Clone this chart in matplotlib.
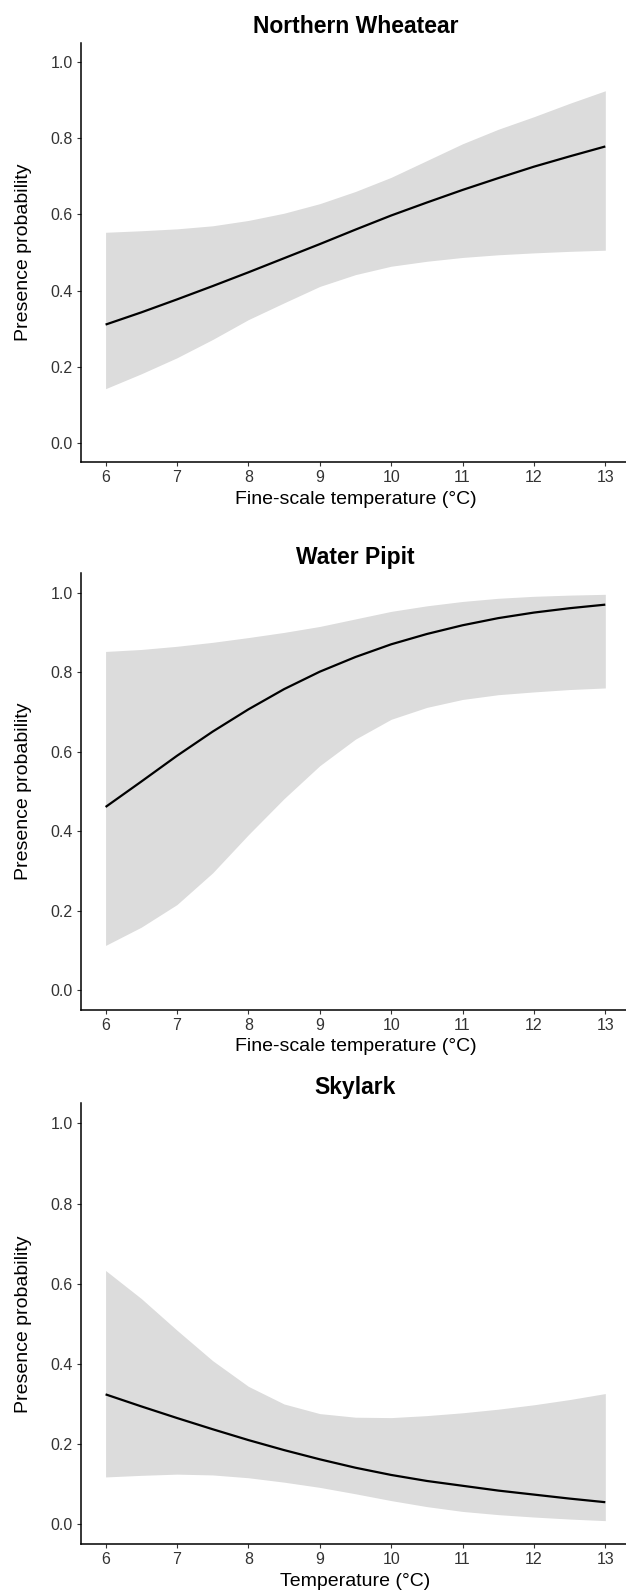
import numpy as np
import matplotlib
matplotlib.use("Agg")
import matplotlib.pyplot as plt

plt.rcParams['font.family'] = ['Liberation Sans', 'DejaVu Sans']

# temperature grid (°C)
temp = [6, 6.5, 7, 7.5, 8, 8.5, 9, 9.5, 10, 10.5, 11, 11.5, 12, 12.5, 13]

# Northern Wheatear
wheatear_fit = [0.311, 0.343, 0.377, 0.412, 0.448, 0.485, 0.522, 0.560, 0.597, 0.631, 0.664, 0.695, 0.725, 0.752, 0.778]
wheatear_hi = [0.553, 0.557, 0.562, 0.570, 0.584, 0.603, 0.628, 0.660, 0.697, 0.741, 0.785, 0.823, 0.856, 0.891, 0.924]
wheatear_lo = [0.143, 0.182, 0.224, 0.272, 0.324, 0.368, 0.411, 0.442, 0.464, 0.477, 0.487, 0.494, 0.499, 0.503, 0.506]

# Water Pipit
pipit_fit = [0.461, 0.525, 0.590, 0.651, 0.707, 0.758, 0.802, 0.839, 0.871, 0.897, 0.919, 0.937, 0.951, 0.962, 0.971]
pipit_hi = [0.853, 0.858, 0.866, 0.876, 0.888, 0.901, 0.916, 0.935, 0.954, 0.968, 0.979, 0.987, 0.992, 0.995, 0.997]
pipit_lo = [0.112, 0.158, 0.215, 0.295, 0.391, 0.482, 0.565, 0.632, 0.682, 0.712, 0.732, 0.744, 0.751, 0.757, 0.761]

# Skylark
skylark_fit = [0.324, 0.294, 0.265, 0.237, 0.210, 0.185, 0.162, 0.141, 0.123, 0.108, 0.096, 0.084, 0.074, 0.064, 0.055]
skylark_hi = [0.633, 0.563, 0.484, 0.408, 0.344, 0.300, 0.276, 0.267, 0.266, 0.271, 0.278, 0.287, 0.298, 0.311, 0.326]
skylark_lo = [0.118, 0.122, 0.125, 0.123, 0.116, 0.105, 0.092, 0.076, 0.059, 0.044, 0.032, 0.024, 0.018, 0.013, 0.009]

titles = ["Northern Wheatear", "Water Pipit", "Skylark"]
xlabels = ["Fine-scale temperature (°C)", "Fine-scale temperature (°C)", "Temperature (°C)"]
fits = [wheatear_fit, pipit_fit, skylark_fit]
his = [wheatear_hi, pipit_hi, skylark_hi]
los = [wheatear_lo, pipit_lo, skylark_lo]

x_ticks = [6, 7, 8, 9, 10, 11, 12, 13]
y_ticks = [0.0, 0.2, 0.4, 0.6, 0.8, 1.0]

W, H = 626, 1592
fig = plt.figure(figsize=(W / 100, H / 100), dpi=100)

# axes boxes in pixels: (top, bottom)
boxes = [(42.7, 462.3), (573.3, 1009.7), (1103.3, 1544.3)]
left_px, right_px = 80.6, 630.3

for i in range(3):
    top, bot = boxes[i]
    ax = fig.add_axes([left_px / W, 1 - bot / H, (right_px - left_px) / W, (bot - top) / H])
    ax.fill_between(temp, los[i], his[i], color="#dcdcdc", linewidth=0)
    ax.plot(temp, fits[i], color="black", linewidth=1.6, solid_capstyle="butt")
    ax.set_xlim(5.65, 13.35)
    ax.set_ylim(-0.05, 1.05)
    ax.set_xticks(x_ticks)
    ax.set_yticks(y_ticks)
    ax.set_yticklabels(["%.1f" % v for v in y_ticks])
    for s in ["top", "right"]:
        ax.spines[s].set_visible(False)
    for s in ["left", "bottom"]:
        ax.spines[s].set_linewidth(1.1)
        ax.spines[s].set_color("black")
    ax.tick_params(length=2.8, width=0.8, color="#333333", labelcolor="#333333",
                   labelsize=11.5, pad=3)
    ax.set_title(titles[i], fontsize=16.5, fontweight="bold", pad=7)
    ax.set_xlabel(xlabels[i], fontsize=14, labelpad=4)
    ax.set_ylabel("Presence probability", fontsize=14, labelpad=13)

fig.savefig("out.png", dpi=100)
